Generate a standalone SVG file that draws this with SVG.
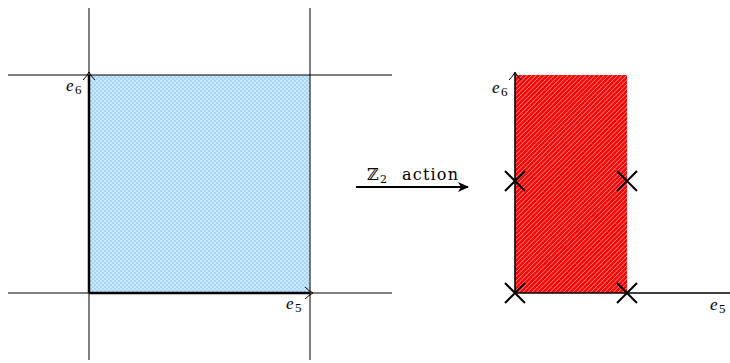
<svg xmlns="http://www.w3.org/2000/svg" width="730" height="363" viewBox="0 0 730 363">
<style>
.thin{stroke:#000;stroke-width:1;fill:none}
.thick{stroke:#000;stroke-width:2.5;fill:none}
.ax{stroke:#000;stroke-width:1.6;fill:none}
.tip{stroke:#000;stroke-width:1;fill:none}
.lbl{font-family:"Liberation Serif","DejaVu Serif",serif;font-style:italic;font-size:17px}
.sub{font-family:"Liberation Serif","DejaVu Serif",serif;font-size:13px}
.cap{font-family:"DejaVu Serif","Liberation Serif",serif;font-size:16px}
.csub{font-family:"DejaVu Serif","Liberation Serif",serif;font-size:11px}
.x{stroke:#000;stroke-width:2;fill:none}
</style>
<defs>
<pattern id="blue" width="4" height="4" patternUnits="userSpaceOnUse">
<rect width="4" height="4" fill="#a6d6f7"/>
<rect width="2" height="2" fill="#cde8fb"/>
<rect x="2" y="2" width="2" height="2" fill="#cde8fb"/>
</pattern>
<pattern id="red" width="3.2" height="3.2" patternUnits="userSpaceOnUse" patternTransform="rotate(45)">
<rect width="3.2" height="3.2" fill="#ff0000"/>
<rect width="0.8" height="3.2" fill="#ff8c8c"/>
</pattern>
<marker id="ah" markerWidth="12" markerHeight="10" refX="10" refY="5" orient="auto" markerUnits="userSpaceOnUse">
<path d="M0,0 L11,5 L0,10 L3,5 Z" fill="#000"/>
</marker>
</defs>
<g id="left-square">
<rect x="89" y="75" width="221" height="218" fill="url(#blue)"/>
</g>
<g id="left-grid">
<line class="thin" x1="89" y1="8" x2="89" y2="360"/>
<line class="thin" x1="310" y1="8" x2="310" y2="360"/>
<line class="thin" x1="8" y1="75" x2="392" y2="75"/>
<line class="thin" x1="8" y1="293" x2="392" y2="293"/>
<line class="thick" x1="89" y1="293" x2="89" y2="75"/>
<line class="thick" x1="89" y1="293" x2="310" y2="293"/>
<path class="tip" d="M83,80 Q87,76 89,72 Q91,76 95,80"/>
<path class="tip" d="M305,287 Q309,291 313,293 Q309,295 305,299"/>
</g>
<g id="left-labels">
<text class="lbl" x="66" y="91">e</text><text class="sub" x="75" y="94">6</text>
<text class="lbl" x="286" y="309">e</text><text class="sub" x="295" y="312">5</text>
</g>
<g id="connectors">
<line x1="356" y1="187" x2="468" y2="187" stroke="#000" stroke-width="2.2" marker-end="url(#ah)"/>
<text class="cap" x="367" y="180">ℤ</text><text class="csub" x="380" y="183">2</text>
<text class="cap" x="402" y="180" textLength="56" lengthAdjust="spacing">action</text>
</g>
<g id="right-region">
<rect x="515" y="75" width="112" height="218" fill="url(#red)"/>
<line class="ax" x1="515" y1="293" x2="515" y2="73"/>
<line class="ax" x1="515" y1="293" x2="730" y2="293"/>
<path class="tip" d="M509,80 Q513,76 515,72 Q517,76 521,80"/>
</g>
<g id="right-labels">
<text class="lbl" x="492" y="93">e</text><text class="sub" x="501" y="96">6</text>
<text class="lbl" x="710" y="310">e</text><text class="sub" x="719" y="313">5</text>
</g>
<g id="fixed-points">
<path class="x" d="M505,171 L525,191 M525,171 L505,191"/>
<path class="x" d="M617,171 L637,191 M637,171 L617,191"/>
<path class="x" d="M505,283 L525,303 M525,283 L505,303"/>
<path class="x" d="M617,283 L637,303 M637,283 L617,303"/>
</g>
</svg>
